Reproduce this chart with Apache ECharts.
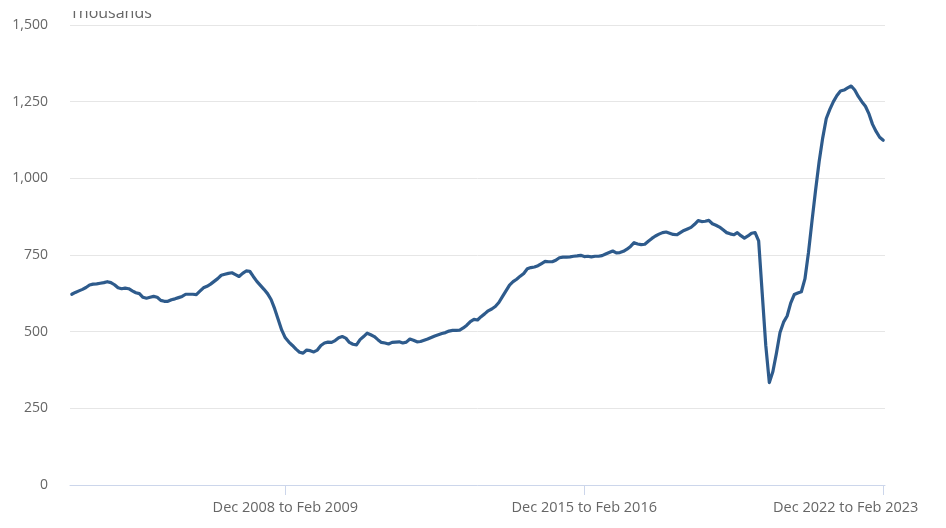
<!DOCTYPE html>
<html>
<head>
<meta charset="utf-8">
<script src="https://cdn.jsdelivr.net/npm/echarts@6/dist/echarts.min.js"></script>
<style>
html,body{margin:0;padding:0;background:#fff;overflow:hidden;width:946px;height:528px;}
#chart{width:946px;height:528px;overflow:hidden;}
</style>
</head>
<body>
<div id="chart"></div>
<script>
// Month names used to build the rolling three-month period labels
const monthNames = ['Jan','Feb','Mar','Apr','May','Jun','Jul','Aug','Sep','Oct','Nov','Dec'];
const firstEndYear = 2004;      // first period: Dec 2003 to Feb 2004
const firstEndMonth = 1;        // Feb (0-based)
const periodCount = 229;        // last period: Dec 2022 to Feb 2023

// Tick labels shown on the x axis
const shownTickLabels = ['Dec 2008 to Feb 2009', 'Dec 2015 to Feb 2016', 'Dec 2022 to Feb 2023'];

// Y axis ticks (thousands)
const yTicks = [0, 250, 500, 750, 1000, 1250, 1500];

// Vacancies, thousands
const vac2004_2008 = [
  622,628,633,638,644,652,655,656,658,660,663,660,
  653,643,640,642,640,633,627,624,612,609,612,615,
  612,602,599,599,604,607,611,615,622,622,622,621,
  632,643,648,655,664,673,684,687,690,692,686,680,
  690,698,697,680,664,651,638,624,605,575,540,505
];
const vac2009_2013 = [
  480,466,455,443,433,430,440,438,434,440,455,463,
  466,465,471,480,484,479,465,459,457,474,484,495,
  490,484,474,465,463,460,465,466,467,463,466,476,
  472,467,468,472,476,481,486,490,494,497,502,504,
  504,505,512,521,533,540,538,549,558,568,574,582
];
const vac2014_2018 = [
  595,614,633,652,663,671,681,690,705,709,711,715,
  722,729,728,728,733,741,743,743,744,746,747,749,
  745,746,744,746,746,748,753,758,763,757,758,762,
  769,778,790,786,784,785,795,804,812,818,823,825,
  821,817,816,823,830,835,840,850,862,859,860,863
];
const vac2019_2023 = [
  852,847,841,832,823,819,816,823,813,805,812,821,
  823,796,625,455,334,370,430,497,531,551,593,621,
  626,630,672,758,862,962,1055,1132,1195,1225,1250,1270,
  1285,1288,1295,1301,1288,1267,1250,1235,1210,1176,1153,1134,
  1124
];

const vacancies = [].concat(vac2004_2008, vac2009_2013, vac2014_2018, vac2019_2023);

const categories = [];
for (let i = 0; i < periodCount; i++) {
  const endAbs = firstEndYear * 12 + firstEndMonth + i;
  const startAbs = endAbs - 2;
  categories.push(
    monthNames[startAbs % 12] + ' ' + Math.floor(startAbs / 12) + ' to ' +
    monthNames[endAbs % 12] + ' ' + Math.floor(endAbs / 12)
  );
}

const showTick = (idx, val) => shownTickLabels.indexOf(categories[idx]) !== -1;
const lastLabel = shownTickLabels[shownTickLabels.length - 1];

const chart = echarts.init(document.getElementById('chart'), null, {renderer: 'canvas', width: 946, height: 528});
const FONT = "'Open Sans', 'Noto Sans', sans-serif";

chart.setOption({
  animation: false,
  backgroundColor: '#ffffff',
  textStyle: {fontFamily: FONT},
  grid: {left: 70, right: 61, top: 25, bottom: 43, containLabel: false, outerBoundsMode: 'none'},
  xAxis: {
    type: 'category',
    data: categories,
    boundaryGap: true,
    axisLine: {show: true, lineStyle: {color: '#ccd6eb', width: 1}},
    axisTick: {show: true, alignWithLabel: true, interval: showTick, length: 10, lineStyle: {color: '#ccd6eb'}},
    axisLabel: {
      show: true, interval: showTick, color: '#666666', fontSize: 14.5, fontFamily: FONT, margin: 15,
      formatter: v => v === lastLabel ? '{last|' + v + '}' : v,
      rich: {
        last: {color: '#666666', fontSize: 14.5, fontFamily: FONT, padding: [0, 75, 0, 0]}
      }
    },
    splitLine: {show: false}
  },
  yAxis: {
    type: 'value',
    min: yTicks[0],
    max: yTicks[yTicks.length - 1],
    interval: yTicks[1] - yTicks[0],
    axisLine: {show: false},
    axisTick: {show: false},
    axisLabel: {
      color: '#666666', fontSize: 14, fontFamily: FONT, margin: 22,
      formatter: v => v.toLocaleString('en-US')
    },
    splitLine: {show: true, lineStyle: {color: '#e6e6e6', width: 1}}
  },
  graphic: [
    {
      type: 'text',
      left: 70,
      top: 5,
      z: 10,
      style: {text: 'Thousands', font: "16px 'Open Sans', 'Noto Sans', sans-serif", fill: '#666666'}
    },
    {
      type: 'rect',
      left: 64,
      top: 0,
      z: 11,
      shape: {width: 100, height: 11},
      style: {fill: '#ffffff'}
    }
  ],
  series: [{
    type: 'line',
    data: vacancies,
    showSymbol: false,
    symbol: 'none',
    smooth: false,
    lineStyle: {color: '#2e5b8c', width: 3.2, join: 'round', cap: 'round'},
    itemStyle: {color: '#2e5b8c'}
  }]
});
</script>
</body>
</html>
